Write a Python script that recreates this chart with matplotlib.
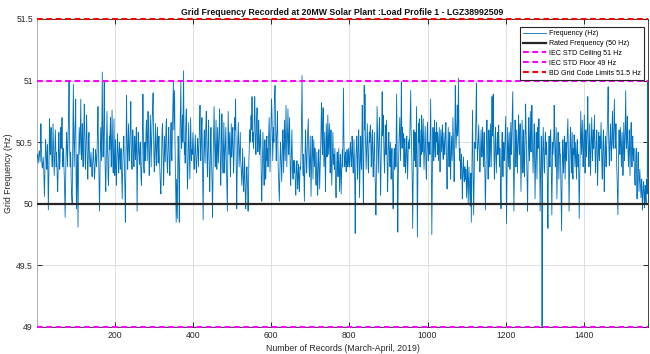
import numpy as np
import matplotlib
matplotlib.use("Agg")
import matplotlib.pyplot as plt

plt.rcParams['font.family'] = ['Liberation Sans', 'DejaVu Sans']

# Grid frequency deviation from 50 Hz, in hundredths of a hertz, per record
freq_dev_part1 = [
    38, 40, 36, 33, 37, 41, 43, 39, 34, 45, 65, 48, 36, 30, 29, 34, 38,
    30, 18, 6, 22, 40, 52, 46, 35, 28, 40, 48, 20, -5, 15, 38, 69, 50,
    40, 55, 62, 48, 35, 30, 45, 65, 52, 38, 23, 35, 50, 60, 44, 30, 42,
    30, 18, 10, 25, 45, 58, 40, 28, 35, 52, 62, 45, 55, 70, 48, 30, 40,
    45, 30, 20, 5, -11, 15, 35, 50, 58, 42, 30, 45, 60, 75, 99, 60, 40,
    30, 42, 25, 12, 5, 0, 30, 60, 97, 55, 30, 45, 60, 70, 85, 20, -4,
    25, 40, 10, -19, 20, 45, 62, 50, 40, 60, 85, 55, 36, 48, 65, 40, 30,
    50, 65, 81, 55, 35, 28, 45, 60, 72, 50, 30, 20, 35, 52, 58, 42, 34,
    30, 36, 42, 35, 26, 22, 30, 40, 45, 38, 28, 20, 26, 35, 44, 38, 30,
    35, 48, 60, 79, 50, 30, 15, -6, 20, 45, 62, 50, 35, 70, 107, 60, 38,
    50, 70, 99, 55, 35, 20, 10, 30, 55, 75, 50, 38, 20, 15, 35, 55, 44,
    60, 70, 45, 30, 50, 76, 55, 33, 25, 48, 69, 40, 23, 35, 52, 30, 15,
    30, 42, 57, 45, 35, 25, 40, 50, 38, 28, 35, 45, 30, 15, 4, 25, 40,
    45, 55, 40, 25, 10, -15, 20, 50, 88, 60, 40, 28, 45, 65, 50, 35, 38,
    55, 70, 83, 50, 35, 28, 45, 60, 52, 38, 30, 40, 55, 48, 36, 45, 62, 40, -6, 20, 45, 58, 44,
]
freq_dev_part2 = [
    40, 32, 45, 50, 35, 22, 15, 28, 45, 60, 89, 55, 30, 25, 42, 50, 35,
    45, 60, 68, 50, 35, 55, 75, 60, 40, 23, 35, 55, 72, 50, 30, 45, 62,
    70, 80, 90, 60, 40, 26, 35, 50, 65, 45, 31, 40, 55, 62, 45, 33, 48,
    55, 40, 30, 20, 12, 8, 25, 45, 60, 65, 45, 30, 15, 35, 55, 45, 34,
    50, 62, 69, 45, 30, 25, 40, 55, 62, 45, 28, 23, 40, 58, 66, 45, 35,
    55, 70, 85, 100, 60, 75, 92, 50, 28, 10, -15, 20, 5, -12, 30, 55, 45,
    20, -15, 30, 60, 80, 99, 55, 45, 60, 72, 50, 80, 108, 62, 40, 50, 33,
    55, 70, 77, 50, 30, 12, 25, 45, 66, 50, 30, 20, 40, 70, 52, 35, 44,
    40, 50, 58, 45, 35, 28, 38, 50, 56, 40, 30, 25, 36, 48, 53, 40, 30,
    45, 55, 65, 80, 50, 35, 45, 60, 70, 40, 10, -13, 25, 50, 60, 45, 33,
    50, 65, 75, 55, 35, 22, 40, 58, 68, 40, 20, 10, 30, 50, 62, 40, 28,
    15, -11, 20, 45, 60, 79, 55, 40, 30, 50, 68, 45, 28, 40, 62, 48, 33,
    45, 60, 77, 55, 35, 15, 30, 55, 73, 50, 35, 25, 45, 66, 45, 25, 40,
    50, 62, 40, 25, 10, -6, 30, 75, 55, 40, 50, 58, 35, 22, 45, 65, 38,
    45, 55, 62, 40, 25, 38, 55, 70, 60, 85, 50, 20, -4, 25, 45, 55, 66, 45, 30, 40, 50, 58, 35,
]
freq_dev_part3 = [
    30, 22, 15, 28, 45, 30, 15, 10, 25, 38, 20, 5, -4, 10, 25, 30, 20,
    10, -6, 15, 35, 45, 60, 50, 55, 70, 72, 60, 87, 65, 50, 58, 45, 55,
    75, 87, 65, 50, 40, 55, 70, 78, 55, 42, 50, 68, 58, 40, 45, 55, 60,
    35, 15, 2, 20, 40, 58, 45, 30, 15, 35, 52, 40, 20, 30, 48, 55, 35,
    45, 30, 50, 60, 70, 45, 26, 40, 55, 65, 85, 75, 55, 35, 50, 62, 50,
    80, 90, 96, 70, 50, 35, 55, 60, 75, 50, 30, 20, 10, 2, 20, 38, 50,
    40, 30, 18, 35, 50, 60, 40, 25, 45, 68, 50, 35, 55, 80, 55, 30, 45,
    60, 77, 50, 40, 55, 70, 45, 25, 15, 30, 48, 60, 40, 28, 20, 35, 33,
    25, 35, 28, 15, 7, 18, 30, 35, 22, 12, 20, 32, 25, 10, 18, 30, 28,
    35, 50, 75, 104, 55, 30, 23, 40, 20, 2, 25, 45, 60, 45, 30, 25, 42,
    55, 62, 69, 45, 30, 22, 40, 55, 30, 6, 25, 45, 55, 40, 20, 35, 52,
    40, 30, 45, 35, 20, 15, 30, 42, 25, 7, 20, 38, 44, 30, 12, 25, 35,
    50, 70, 82, 55, 40, 65, 78, 50, 30, 45, 58, 30, 10, 35, 65, 50, 38,
    50, 72, 55, 40, 52, 65, 45, 25, 40, 60, 40, 15, 30, 48, 58, 40, 32,
    40, 28, 45, 30, 15, 5, 20, 35, 42, 30, 22, 35, 45, 28, 10, 25, 40, 30, 8, 20, 35, 44, 30,
]
freq_dev_part4 = [
    60, 94, 55, 40, 30, 35, 42, 32, 26, 35, 44, 38, 30, 33, 45, 38, 30,
    35, 45, 50, 40, 30, 38, 55, 45, 30, 25, 40, 52, 35, 15, -24, 20, 40,
    45, 55, 35, 20, 35, 55, 60, 40, 5, 25, 40, 55, 35, 28, 50, 80, 50,
    25, -1, 40, 96, 60, 89, 55, 45, 28, 40, 55, 65, 45, 30, 25, 45, 58,
    50, 60, 64, 45, 30, 40, 55, 60, 35, 22, 35, 50, 58, 35, 20, 10, -9,
    20, 50, 79, 60, 40, 25, 45, 60, 70, 45, 25, 7, 30, 50, 62, 91, 55,
    60, 72, 50, 35, 25, 45, 64, 55, 40, 68, 45, 28, 10, 30, 50, 58, 45,
    40, 30, 50, 35, 20, 35, 45, 25, 15, -4, 20, 40, 45, 28, 40, 48, 30,
    60, 89, 50, 20, -23, 15, 35, 50, 60, 70, 50, 35, 60, 99, 65, 45, 62,
    50, 57, 40, 30, 45, 53, 40, 25, 35, 48, 55, 35, 20, 35, 50, 45, 52,
    45, 60, 75, 92, 60, 50, 35, 15, -20, 10, 40, 60, 45, 35, 58, 40, 30,
    55, 79, 30, -27, 10, 45, 65, 50, 69, 45, 30, 45, 60, 40, 72, 50, 42,
    55, 69, 45, 28, 40, 55, 63, 45, 30, 20, 40, 58, 66, 45, 35, 50, 45,
    50, 40, 60, 85, 55, 20, -25, 15, 45, 62, 45, 35, 55, 68, 45, 38, 58,
    50, 66, 55, 40, 58, 45, 35, 50, 62, 40, 26, 40, 60, 50, 42, 55, 64, 45, 36, 48, 58, 45, 40,
]
freq_dev_part5 = [
    50, 60, 66, 45, 25, 12, 30, 50, 62, 45, 30, 48, 58, 35, 20, 40, 55,
    45, 35, 50, 70, 55, 40, 18, 35, 60, 96, 65, 45, 55, 65, 80, 55, 60,
    102, 70, 45, 35, 45, 30, 20, 35, 40, 28, 4, 20, 30, 38, 25, 18, 30,
    30, 20, 28, 15, 5, 20, 35, 20, 0, 15, 30, 20, 10, -2, 15, 25, -15,
    10, 40, 76, 50, 20, -9, 15, 35, 50, 45, 60, 75, 98, 60, 45, 35, 45,
    55, 64, 50, 40, 26, 35, 48, 60, 50, 38, 45, 62, 45, 30, 42, 58, 40,
    20, -5, 15, 40, 55, 68, 50, 35, 20, 40, 60, 48, 30, 45, 65, 45, 30,
    60, 87, 55, 65, 89, 60, 40, 20, 35, 55, 62, 40, 25, 38, 50, 58, 40,
    50, 64, 45, 30, 45, 35, 10, -4, 25, 45, 58, 35, 22, 40, 50, 35, 38,
    50, 60, 71, 30, -16, 15, 40, 62, 45, 30, 45, 58, 40, 28, 45, 66, 40,
    45, 60, 75, 91, 55, 25, -6, 20, 50, 68, 45, 30, 45, 60, 40, 25, 45,
    55, 72, 50, 40, 58, 65, 35, 10, 30, 55, 68, 45, 25, 40, 60, 35, 22,
    40, 58, 81, 60, 45, 30, 15, -6, 25, 55, 70, 45, 35, 55, 75, 45, 42,
    55, 80, 55, 40, 25, 40, 55, 65, 35, 4, 25, 45, 58, 40, 20, 45, 62,
    45, 55, 69, 50, 30, -6, 20, 40, 55, 45, -100, 30, 45, 62, 45, 30, 25, 40, 55, 58, 40, 50, 45,
]
freq_dev_part6 = [
    30, 10, -20, 20, 45, 55, 40, 30, 50, 60, 45, 20, -9, 25, 50, 40, 48,
    55, 80, 55, 40, 30, 45, 62, 30, 4, 25, 45, 58, 40, 20, 35, 50, 40,
    40, 20, 5, -22, 15, 40, 52, 35, 25, 40, 55, 40, 20, 35, 50, 40, 35,
    50, 60, 69, 50, 30, -6, 20, 40, 55, 62, 40, 25, 40, 58, 35, 20, 45,
    40, 56, 45, 30, 40, 50, 35, 20, 40, 52, 45, 30, 40, 20, -12, 15, 35,
    50, 75, 55, 40, 55, 68, 45, 30, 45, 62, 72, 40, 25, 45, 60, 45, 38,
    50, 65, 87, 55, 40, 30, 50, 65, 45, 23, 40, 58, 70, 50, 35, 50, 60,
    45, 60, 72, 50, 35, 25, 45, 55, 60, 35, 15, 30, 50, 58, 40, 35, 55,
    45, 55, 66, 45, 30, 20, 40, 52, 60, 35, 10, 25, 45, 55, 40, 30, 45,
    55, 65, 75, 95, 60, 45, 31, 45, 55, 65, 45, 35, 50, 62, 75, 50, 45,
    55, 70, 85, 60, 45, 50, 65, 45, 30, 20, 5, -9, 20, 45, 60, 45, 40,
    50, 62, 45, 30, 45, 58, 40, 23, 40, 66, 50, 35, 48, 70, 92, 55, 45,
    55, 71, 50, 40, 30, 45, 60, 45, 23, 40, 58, 66, 45, 30, 45, 55, 42,
    35, 45, 30, 20, 15, 30, 40, 45, 20, 4, 20, 35, 42, 25, 10, 20, 28,
    20, 12, 5, 15, 20, 5, -5, 8, 15, 18, 5, -3, 10, 15, 5, 0, 12, 20, 8, 100, 22,
]

rated_hz = 50.0
iec_ceiling_hz = 51.0
iec_floor_hz = 49.0
bd_limit_hz = 51.5

y_ticks = [49, 49.5, 50, 50.5, 51, 51.5]
y_tick_labels = ["49", "49.5", "50", "50.5", "51", "51.5"]
x_ticks = [200, 400, 600, 800, 1000, 1200, 1400]

freq_dev = np.array(freq_dev_part1 + freq_dev_part2 + freq_dev_part3
                    + freq_dev_part4 + freq_dev_part5 + freq_dev_part6)
freq_hz = rated_hz + freq_dev / 100.0
records = np.arange(1, len(freq_hz) + 1)
x_span = [records[0], records[-1]]

fig = plt.figure(figsize=(6.5, 3.54), dpi=100)
ax = fig.add_axes([37 / 650, 27 / 354, 611 / 650, 308 / 354])

dash = (2.8, 1.7)
ax.plot(records, freq_hz, color='#0072BD', lw=0.6, label='Frequency (Hz)', zorder=3)
ax.plot(x_span, [rated_hz] * 2, color='#262626', lw=1.6,
        label='Rated Frequency (50 Hz)', zorder=4)
ax.plot(x_span, [iec_ceiling_hz] * 2, color='#FF00FF', lw=1.5, ls='--', dashes=dash,
        label='IEC STD Ceiling 51 Hz', zorder=4)
ax.plot(x_span, [iec_floor_hz] * 2, color='#FF00FF', lw=1.5, ls='--', dashes=dash,
        label='IEC STD Floor 49 Hz', zorder=4, clip_on=False)
ax.plot(x_span, [bd_limit_hz] * 2, color='#FF0000', lw=1.5, ls='--', dashes=dash,
        label='BD Grid Code Limits 51.5 Hz', zorder=4, clip_on=False)

ax.set_xlim(x_span)
ax.set_ylim(49, 51.5)
ax.set_xticks(x_ticks)
ax.set_yticks(y_ticks)
ax.set_yticklabels(y_tick_labels)

ax.grid(True, color='#dedede', lw=0.7)
ax.set_axisbelow(True)
ax.tick_params(direction='in', length=3.5, width=0.7, top=True, right=True,
               labelsize=6.2, colors='#262626', pad=3)
for sp in ax.spines.values():
    sp.set_color('#262626')
    sp.set_linewidth(0.6)
ax.spines['left'].set_color('#a0a0a0')

ax.set_title('Grid Frequency Recorded at 20MW Solar Plant :Load Profile 1 - LGZ38992509',
             fontsize=6.3, fontweight='bold', color='#111111', pad=3)
ax.set_xlabel('Number of Records (March-April, 2019)', fontsize=6.3, color='#262626', labelpad=3)
ax.set_ylabel('Grid Frequency (Hz)', fontsize=6.3, color='#262626', labelpad=2)

leg = ax.legend(loc='upper right', bbox_to_anchor=(0.996, 0.978), fontsize=5.1,
                frameon=True, fancybox=False, edgecolor='#262626', framealpha=1,
                handlelength=3.3, handletextpad=0.45, labelspacing=0.42,
                borderpad=0.4, borderaxespad=0.2)
leg.get_frame().set_linewidth(0.8)

fig.savefig('out.png', dpi=100)
